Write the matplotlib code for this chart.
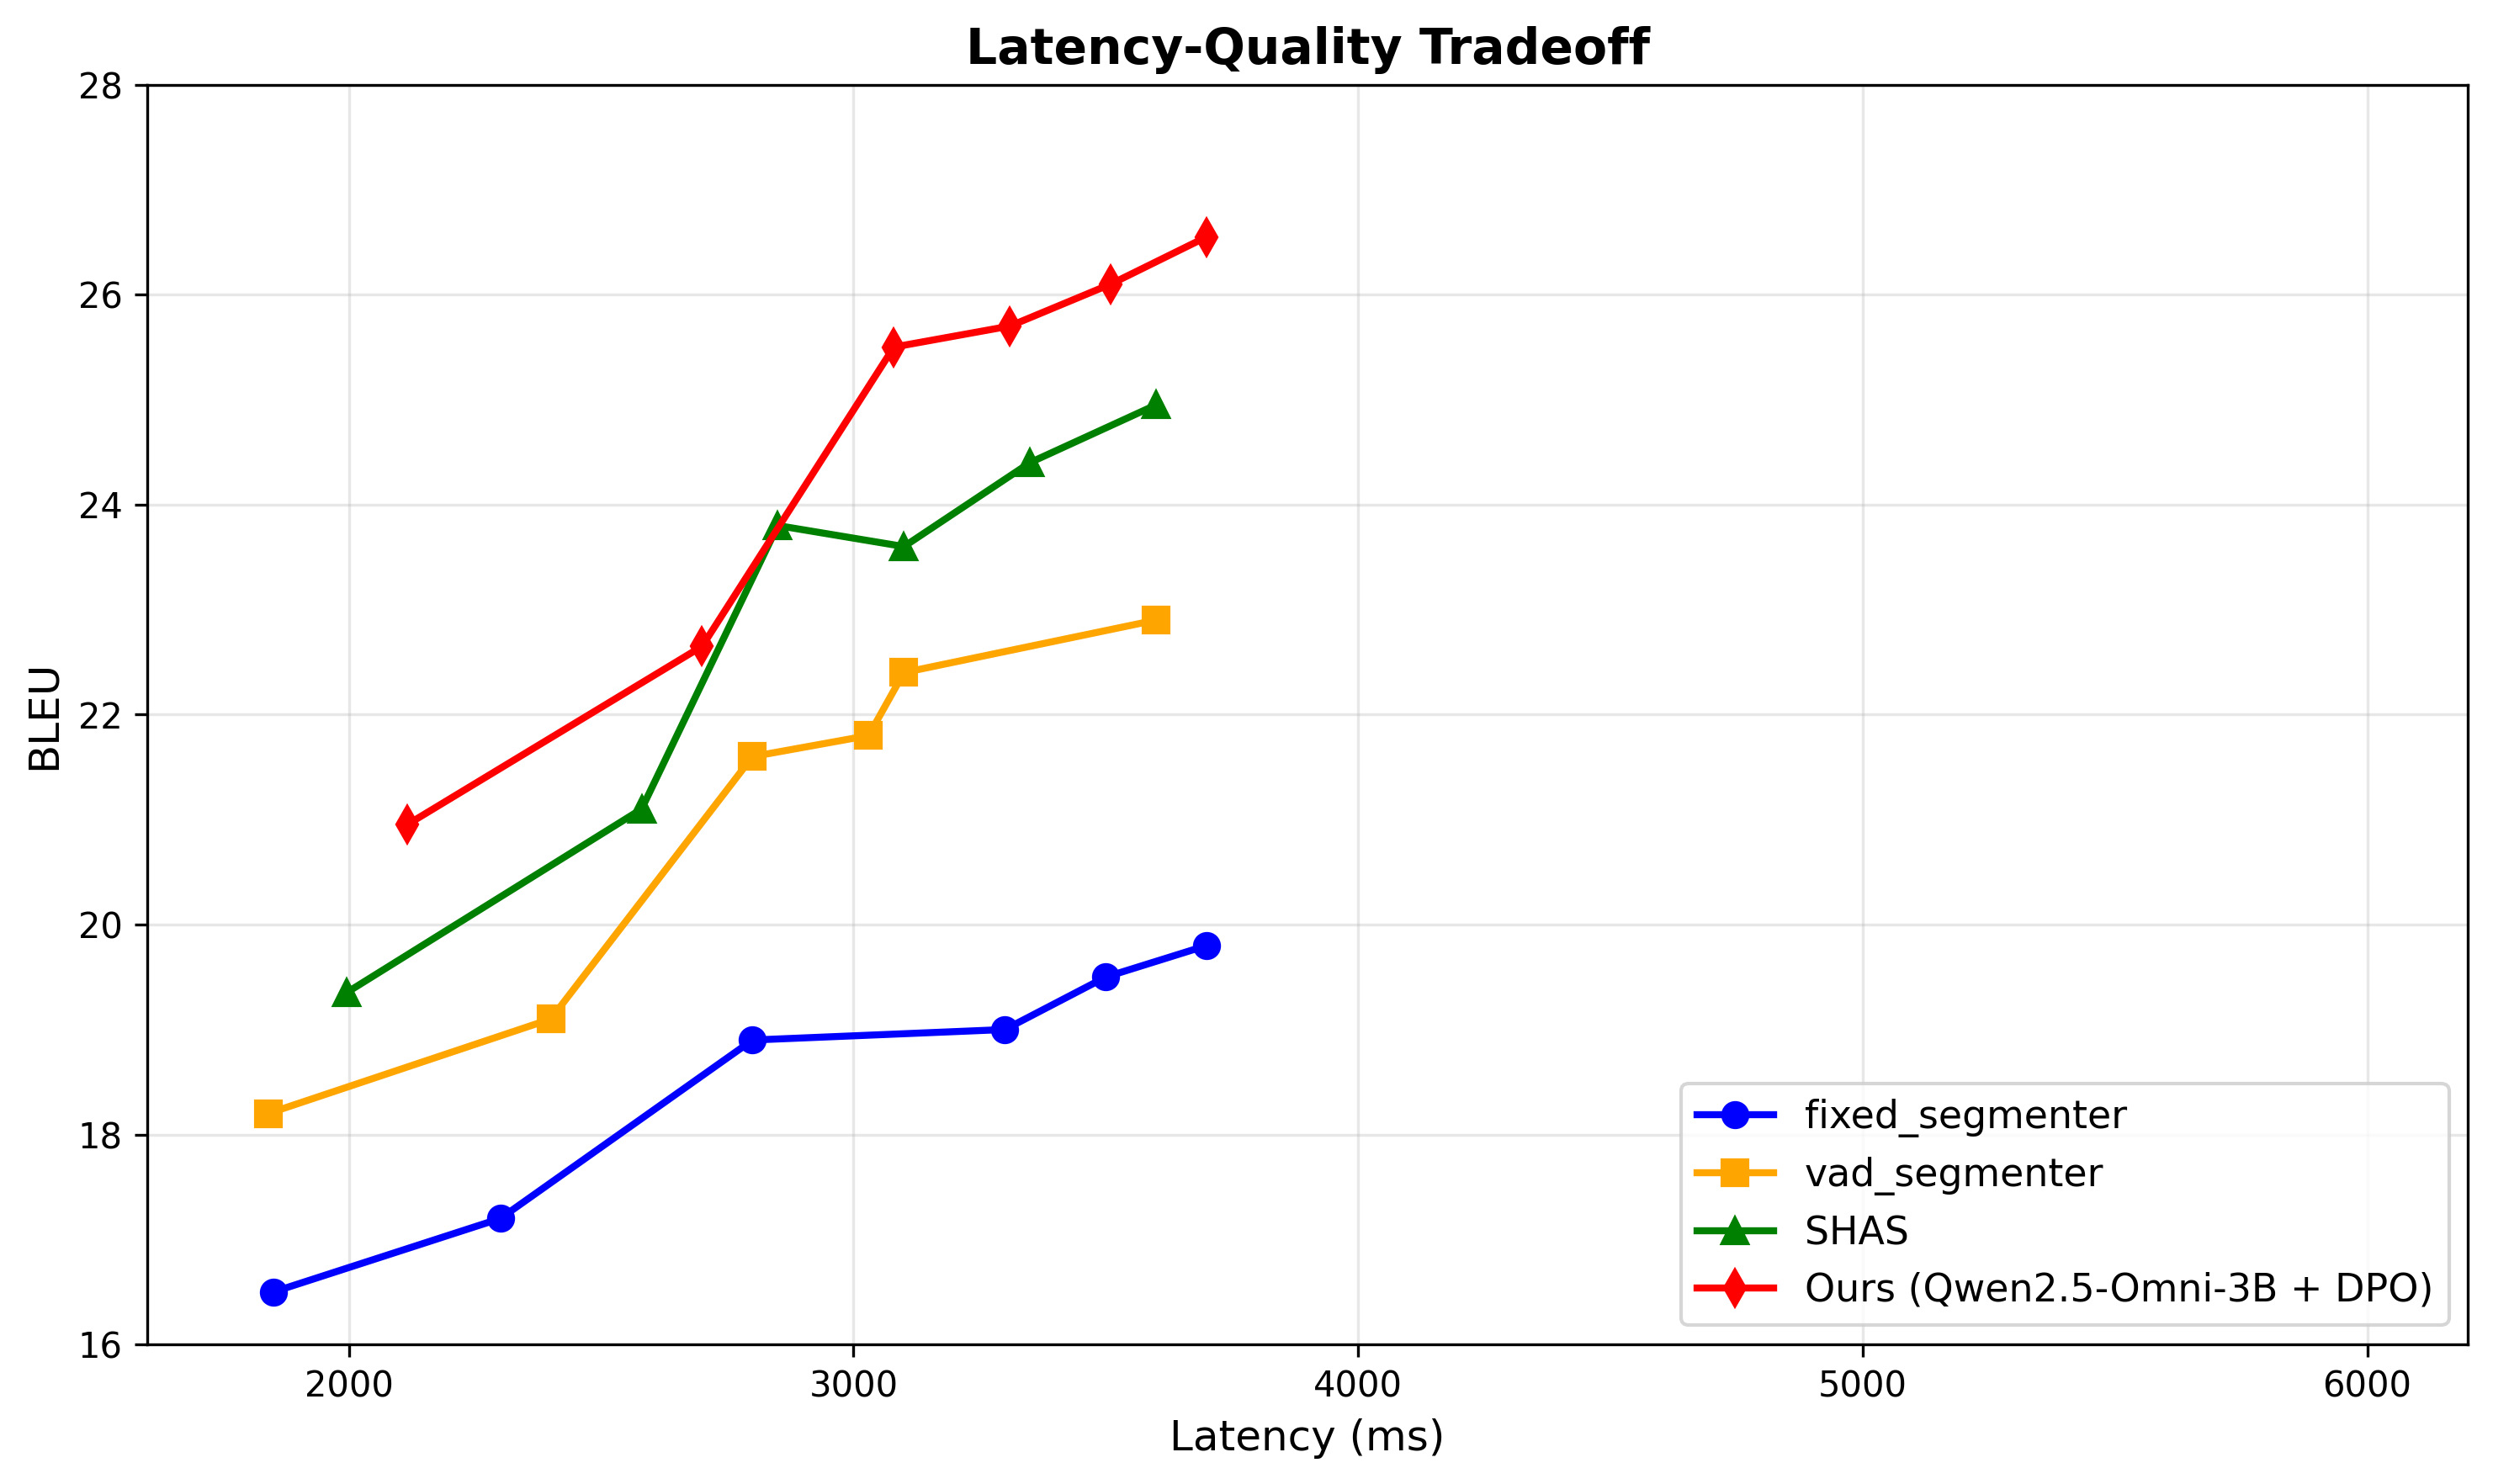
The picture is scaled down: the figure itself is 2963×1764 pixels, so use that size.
import matplotlib
matplotlib.use("Agg")
import matplotlib.pyplot as plt

# latency (ms) / BLEU for each segmenter
fixed_lat = [1850, 2300, 2800, 3300, 3500, 3700]
fixed_bleu = [16.5, 17.2, 18.9, 19.0, 19.5, 19.8]

vad_lat = [1840, 2400, 2800, 3030, 3100, 3600]
vad_bleu = [18.2, 19.1, 21.6, 21.8, 22.4, 22.9]

shas_lat = [1995, 2580, 2850, 3100, 3350, 3600]
shas_bleu = [19.35, 21.1, 23.8, 23.6, 24.4, 24.95]

ours_lat = [2115, 2700, 3080, 3310, 3510, 3700]
ours_bleu = [20.95, 22.65, 25.5, 25.7, 26.1, 26.55]

labels = ['fixed_segmenter', 'vad_segmenter', 'SHAS', 'Ours (Qwen2.5-Omni-3B + DPO)']

fig, ax = plt.subplots(figsize=(9.877, 5.88), dpi=300)

ax.plot(fixed_lat, fixed_bleu, marker='o', color='blue', linewidth=2, markersize=7, label=labels[0])
ax.plot(vad_lat, vad_bleu, marker='s', color='orange', linewidth=2, markersize=7, label=labels[1])
ax.plot(shas_lat, shas_bleu, marker='^', color='green', linewidth=2, markersize=7, label=labels[2])
ax.plot(ours_lat, ours_bleu, marker='d', color='red', linewidth=2, markersize=7, label=labels[3])

ax.set_xlim(1600, 6200)
ax.set_ylim(16, 28)
ax.set_xlabel('Latency (ms)', fontsize=12)
ax.set_ylabel('BLEU', fontsize=12)
ax.set_title('Latency-Quality Tradeoff', fontsize=14, fontweight='bold')
ax.grid(True, alpha=0.3)
ax.legend(loc='lower right', fontsize=11)

plt.subplots_adjust(left=0.059, right=0.990, top=0.943, bottom=0.094)
plt.savefig('out.png', dpi=300)
